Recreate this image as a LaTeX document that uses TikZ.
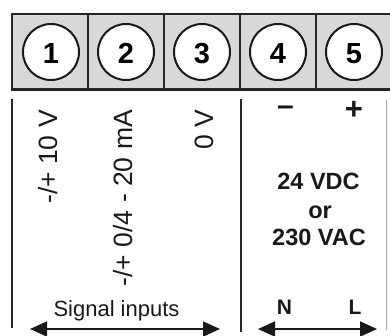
\documentclass[tikz,border=0pt]{standalone}
\usepackage{fontspec}
\setmainfont{Liberation Sans}
\usetikzlibrary{arrows.meta}
\definecolor{cellgray}{HTML}{D8D8D8}
\definecolor{edgegray}{HTML}{A8A8A8}
\tikzset{
  cellbox/.style={draw=black!85, line width=1.2pt, fill=cellgray},
  termcircle/.style={circle, draw=black!90, line width=2pt, fill=white, minimum size=56pt, inner sep=0pt},
  termnum/.style={font=\fontsize{29}{29}\selectfont\bfseries, inner sep=0pt, anchor=base},
  sigtext/.style={font=\fontsize{26.5}{26.5}\selectfont, rotate=90, anchor=base east, inner sep=0pt, text=black!90},
  boldtext/.style={font=\fontsize{23.5}{27}\selectfont\bfseries, inner sep=0pt, align=center, text=black!90},
  sidebar/.style={line width=2pt, draw=black!85},
  dimarrow/.style={line width=1.8pt, draw=black!90, {Triangle[length=17pt,width=15pt]}-{Triangle[length=17pt,width=15pt]}},
}
\begin{document}
\begin{tikzpicture}[x=1pt,y=-1pt]
\useasboundingbox (0,0) rectangle (390,335);
\clip (0,0) rectangle (390,335);
% terminal strip cells
\foreach \i/\x in {1/12,2/88,3/164,4/240,5/316}{
  \path[cellbox] (\x,14) rectangle ++(76,75.5);
}
\draw[line width=2.2pt, draw=black!85] (12,14) rectangle (400,89.5);
% circles and numbers
\foreach \i/\cx in {1/51,2/126,3/202,4/278,5/354}{
  \node[termcircle] (c\i) at (\cx,52) {};
  \node[termnum] (n\i) at (\cx,63) {\i};
}
% vertical separators
\coordinate (l1) at (11.5,99);  \coordinate (l2) at (11.5,328);
\coordinate (m1) at (240.5,99); \coordinate (m2) at (240.5,332);
\coordinate (r1) at (386.5,100); \coordinate (r2) at (386.5,330);
\draw[sidebar] (l1) -- (l2);
\draw[sidebar] (m1) -- (m2);
\draw[line width=1pt, draw=edgegray] (r1) -- (r2);
% signal labels
\node[sigtext] (s1) at (57.5,110) {-/+ 10 V};
\node[sigtext] (s2) at (132.5,110) {-/+ 0/4 - 20 mA};
\node[sigtext] (s3) at (213.5,110) {0 V};
\node[font=\fontsize{22}{22}\selectfont, inner sep=0pt, anchor=base, text=black!90] (sig) at (116.5,316) {Signal inputs};
% supply labels
\node[font=\fontsize{30}{30}\selectfont\bfseries, inner sep=0pt, anchor=base, text=black!90] (minus) at (285.5,115.5) {–};
\node[font=\fontsize{31}{31}\selectfont\bfseries, inner sep=0pt, anchor=base, text=black!90] (plus) at (354,119) {+};
\node[boldtext, anchor=base] (v1) at (318.5,189) {24 VDC};
\node[boldtext, anchor=base] (v2) at (320,218) {or};
\node[boldtext, anchor=base] (v3) at (319,245) {230 VAC};
\node[font=\fontsize{21}{21}\selectfont\bfseries, inner sep=0pt, anchor=base, text=black!90] (N) at (284.5,314) {N};
\node[font=\fontsize{21}{21}\selectfont\bfseries, inner sep=0pt, anchor=base, text=black!90] (L) at (355,314) {L};
% arrows
\coordinate (a1) at (30,329); \coordinate (a2) at (220,329);
\coordinate (b1) at (258,329); \coordinate (b2) at (377,329);
\draw[dimarrow] (a1) -- (a2);
\draw[dimarrow] (b1) -- (b2);
\end{tikzpicture}
\end{document}
